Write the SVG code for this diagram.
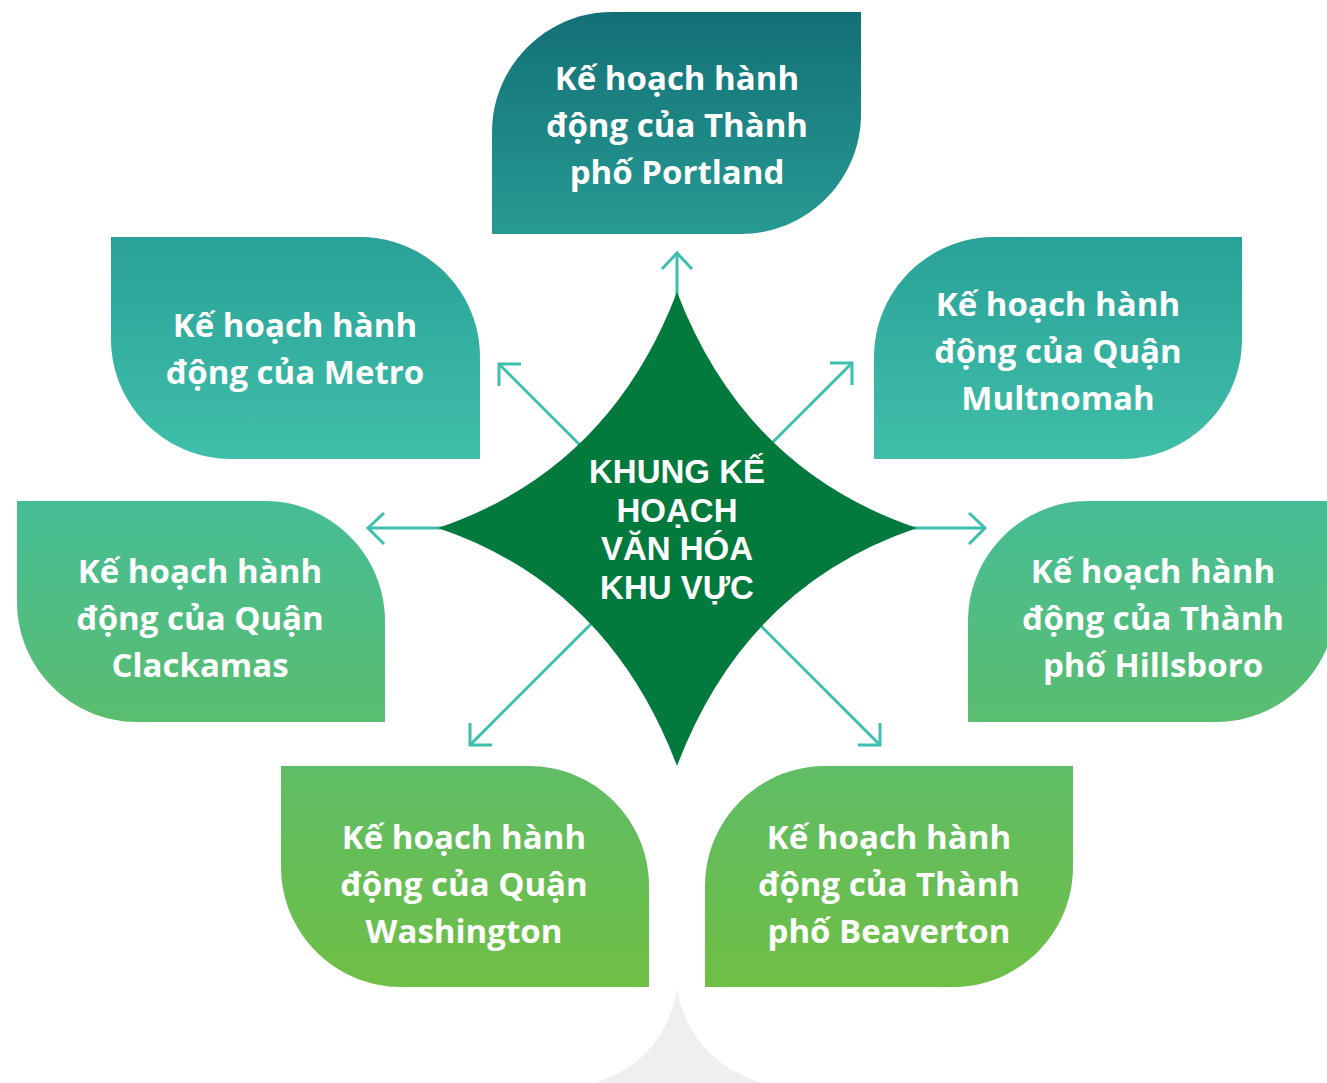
<svg xmlns="http://www.w3.org/2000/svg" width="1327" height="1083" viewBox="0 0 1327 1083">
<defs>
<linearGradient id="g1" x1="0" y1="0" x2="0" y2="1"><stop offset="0" stop-color="#137076"/><stop offset="1" stop-color="#279a93"/></linearGradient>
<linearGradient id="g2" x1="0" y1="0" x2="0" y2="1"><stop offset="0" stop-color="#2aa198"/><stop offset="1" stop-color="#3fbfa9"/></linearGradient>
<linearGradient id="g3" x1="0" y1="0" x2="0" y2="1"><stop offset="0" stop-color="#46bd96"/><stop offset="1" stop-color="#5abd6f"/></linearGradient>
<linearGradient id="g4" x1="0" y1="0" x2="0" y2="1"><stop offset="0" stop-color="#60bd66"/><stop offset="1" stop-color="#6fbf45"/></linearGradient>
</defs>
<style>
.t{font-family:"Open Sans","Noto Sans","Liberation Sans",sans-serif;font-weight:700;font-size:33px;fill:#fff;text-anchor:middle}
.c{font-family:"Liberation Sans",Arial,sans-serif;font-weight:700;font-size:33px;fill:#fff;text-anchor:middle}
.ln{fill:none;stroke:#3dbfae;stroke-width:3}
</style>
<path d="M677,989 Q665,1060 595,1083 L762,1083 Q690,1060 677,989 Z" fill="#efefef"/>
<g id="connectors" class="ln">
<line x1="677" y1="400" x2="677" y2="253"/><polyline points="662,269 677,253 692,269"/>
<line x1="560" y1="528" x2="368" y2="528"/><polyline points="384,513 368,528 384,544"/>
<line x1="800" y1="528" x2="985" y2="528"/><polyline points="969,513 985,528 969,544"/>
<line x1="610" y1="475" x2="499" y2="364"/><polyline points="521,364 499,364 499,386"/>
<line x1="745" y1="470" x2="852" y2="363"/><polyline points="830,363 852,363 852,385"/>
<line x1="610" y1="605" x2="470" y2="745"/><polyline points="470,723 470,745 492,745"/>
<line x1="745" y1="610" x2="880" y2="745"/><polyline points="880,723 880,745 858,745"/>
</g>
<g id="center">
<path d="M677,292 Q745,470 917,528 Q745,586 677,766 Q609,586 438,528 Q609,470 677,292 Z" fill="#027a3d"/>
<text class="c" x="677" y="483">KHUNG KẾ</text>
<text class="c" x="677" y="522">HOẠCH</text>
<text class="c" x="677" y="560">VĂN HÓA</text>
<text class="c" x="677" y="599">KHU VỰC</text>
</g>
<g id="portland">
<path d="M612,12 H861 V114 C861,180 807,234 741,234 H492 V132 C492,66 546,12 612,12 Z" fill="url(#g1)"/>
<text class="t" x="677" y="90">Kế hoạch hành</text>
<text class="t" x="677" y="137">động của Thành</text>
<text class="t" x="677" y="184">phố Portland</text>
</g>
<g id="metro">
<path d="M111,237 H360 C426,237 480,291 480,357 V459 H231 C165,459 111,405 111,339 Z" fill="url(#g2)"/>
<text class="t" x="295" y="337">Kế hoạch hành</text>
<text class="t" x="295" y="384">động của Metro</text>
</g>
<g id="multnomah">
<path d="M994,237 H1242 V339 C1242,405 1188,459 1122,459 H874 V357 C874,291 928,237 994,237 Z" fill="url(#g2)"/>
<text class="t" x="1058" y="316">Kế hoạch hành</text>
<text class="t" x="1058" y="363">động của Quận</text>
<text class="t" x="1058" y="410">Multnomah</text>
</g>
<g id="clackamas">
<path d="M17,501 H265 C331,501 385,555 385,621 V722 H137 C71,722 17,668 17,602 Z" fill="url(#g3)"/>
<text class="t" x="200" y="583">Kế hoạch hành</text>
<text class="t" x="200" y="630">động của Quận</text>
<text class="t" x="200" y="677">Clackamas</text>
</g>
<g id="hillsboro">
<path d="M1088,501 H1336 V602 C1336,668 1282,722 1216,722 H968 V621 C968,555 1022,501 1088,501 Z" fill="url(#g3)"/>
<text class="t" x="1153" y="583">Kế hoạch hành</text>
<text class="t" x="1153" y="630">động của Thành</text>
<text class="t" x="1153" y="677">phố Hillsboro</text>
</g>
<g id="washington">
<path d="M281,766 H529 C595,766 649,820 649,886 V987 H401 C335,987 281,933 281,867 Z" fill="url(#g4)"/>
<text class="t" x="464" y="849">Kế hoạch hành</text>
<text class="t" x="464" y="896">động của Quận</text>
<text class="t" x="464" y="943">Washington</text>
</g>
<g id="beaverton">
<path d="M825,766 H1073 V867 C1073,933 1019,987 953,987 H705 V886 C705,820 759,766 825,766 Z" fill="url(#g4)"/>
<text class="t" x="889" y="849">Kế hoạch hành</text>
<text class="t" x="889" y="896">động của Thành</text>
<text class="t" x="889" y="943">phố Beaverton</text>
</g>
</svg>
